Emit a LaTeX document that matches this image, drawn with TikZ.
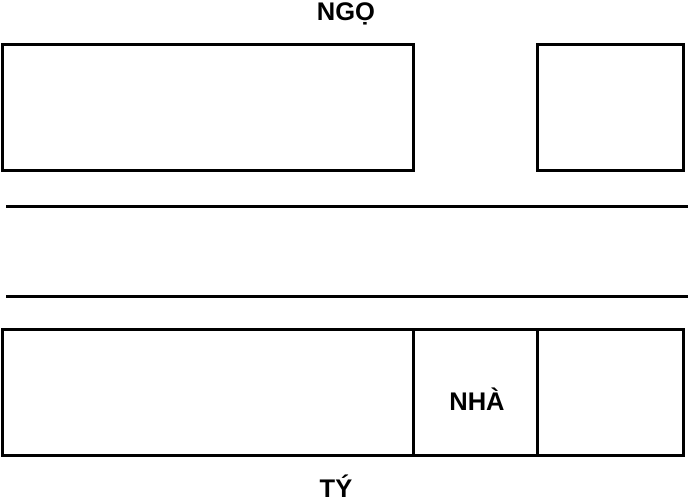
\documentclass[tikz,border=0pt]{standalone}
\usepackage{fontspec}
\setmainfont{Liberation Sans}
\begin{document}
\begin{tikzpicture}[x=1pt,y=-1pt,
  wall/.style={draw=black,line width=3pt},
  road/.style={draw=black,line width=3pt},
  lbl/.style={font=\fontsize{25.5}{30}\selectfont\bfseries,inner sep=0pt,anchor=base}]
\useasboundingbox (0,0) rectangle (688,501);
\draw[wall] (2,44) rectangle (413,170);
\draw[wall] (537,44) rectangle (683,170);
\draw[road] (6,206) -- (688,206);
\draw[road] (6,296) -- (688,296);
\draw[wall] (2,329) rectangle (413,455);
\draw[wall] (413,329) rectangle (537,455);
\draw[wall] (537,329) rectangle (683,455);
\node[lbl] (ngo) at (346,20.5) {NGỌ};
\node[lbl] (nha) at (477,410) {NHÀ};
\node[lbl] (ty) at (336,497) {TÝ};
\end{tikzpicture}
\end{document}
